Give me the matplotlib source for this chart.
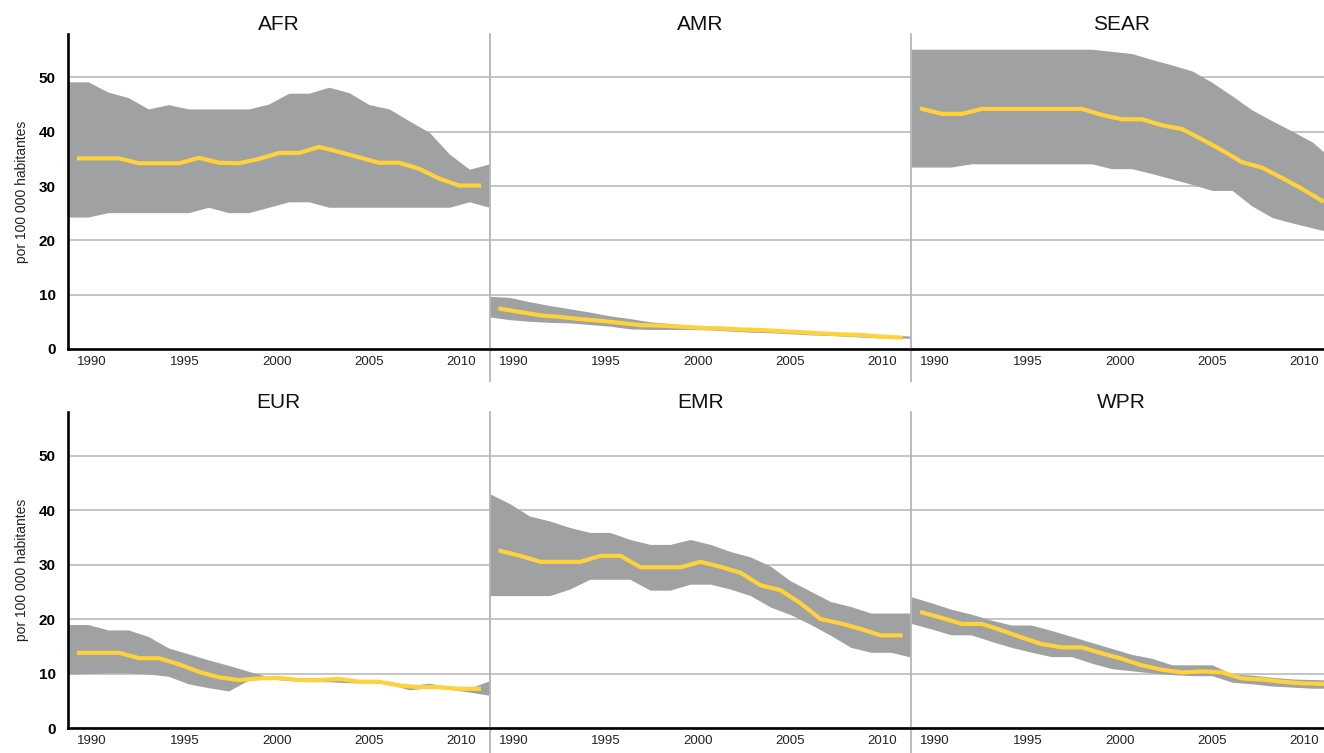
import numpy as np
import matplotlib
matplotlib.use("Agg")
import matplotlib.pyplot as plt

plt.rcParams['font.family'] = ['Liberation Sans Narrow', 'Liberation Sans', 'DejaVu Sans']

# line years and tick labels
years = np.arange(1990, 2011)
tick_years = [1990, 1995, 2000, 2005, 2010]
regions = ["AFR", "AMR", "SEAR", "EUR", "EMR", "WPR"]

# central estimate per region (1990..2010)
afr_mid = [35.1, 35.1, 35.1, 34.2, 34.2, 34.2, 35.2, 34.3, 34.2, 35.0, 36.1,
           36.1, 37.2, 36.3, 35.3, 34.3, 34.3, 33.2, 31.4, 30.1, 30.1]
amr_mid = [7.4, 6.8, 6.2, 5.9, 5.5, 5.2, 4.8, 4.4, 4.3, 4.1, 3.9,
           3.8, 3.6, 3.5, 3.3, 3.1, 2.9, 2.7, 2.6, 2.3, 2.1]
sear_mid = [44.2, 43.3, 43.3, 44.2, 44.2, 44.2, 44.2, 44.2, 44.2, 43.1, 42.3,
            42.3, 41.2, 40.5, 38.6, 36.6, 34.4, 33.4, 31.5, 29.5, 27.3]
eur_mid = [13.8, 13.8, 13.8, 12.8, 12.8, 11.7, 10.3, 9.3, 8.8, 9.1, 9.2,
           8.8, 8.8, 9.0, 8.5, 8.5, 7.8, 7.5, 7.5, 7.2, 7.2]
emr_mid = [32.5, 31.6, 30.5, 30.5, 30.5, 31.6, 31.6, 29.5, 29.5, 29.5, 30.5,
           29.6, 28.5, 26.2, 25.3, 22.9, 20.0, 19.2, 18.2, 17.0, 17.0]
wpr_mid = [21.2, 20.2, 19.1, 19.1, 17.9, 16.6, 15.4, 14.8, 14.8, 13.7, 12.7,
           11.5, 10.7, 10.2, 10.4, 10.2, 9.1, 8.9, 8.5, 8.2, 8.1]

# uncertainty band, 22 samples across each panel
afr_hi = [49.2, 49.2, 47.3, 46.3, 44.2, 45.0, 44.2, 44.2, 44.2, 44.2, 45.1,
          47.1, 47.1, 48.2, 47.2, 45.0, 44.2, 42.0, 39.9, 35.9, 33.1, 34.1]
afr_lo = [24.3, 24.3, 25.1, 25.1, 25.1, 25.1, 25.1, 26.1, 25.1, 25.1, 26.1,
          27.1, 27.1, 26.1, 26.1, 26.1, 26.1, 26.1, 26.1, 26.1, 27.1, 26.1]
amr_hi = [9.7, 9.5, 8.7, 8.0, 7.4, 6.8, 6.1, 5.6, 5.0, 4.7, 4.4,
          4.2, 3.9, 3.7, 3.5, 3.3, 3.1, 2.9, 2.7, 2.6, 2.5, 2.4]
amr_lo = [5.9, 5.4, 5.1, 4.9, 4.8, 4.5, 4.2, 3.7, 3.6, 3.6, 3.6,
          3.5, 3.3, 3.1, 3.0, 2.8, 2.6, 2.5, 2.3, 2.1, 2.0, 2.0]
sear_hi = [55.2, 55.2, 55.2, 55.2, 55.2, 55.2, 55.2, 55.2, 55.2, 55.2, 54.8,
           54.4, 53.3, 52.3, 51.2, 49.1, 46.6, 44.0, 42.0, 40.1, 38.1, 34.9]
sear_lo = [33.5, 33.5, 33.5, 34.1, 34.1, 34.1, 34.1, 34.1, 34.1, 34.1, 33.2,
           33.2, 32.3, 31.3, 30.3, 29.2, 29.2, 26.3, 24.2, 23.2, 22.3, 21.4]
eur_hi = [19.0, 19.0, 18.0, 18.0, 16.8, 14.7, 13.6, 12.5, 11.5, 10.4, 9.4,
          9.2, 9.1, 9.1, 9.0, 8.8, 8.6, 7.8, 8.2, 7.6, 7.3, 8.7]
eur_lo = [9.9, 10.0, 10.1, 10.1, 9.9, 9.5, 8.1, 7.4, 6.8, 8.8, 9.0,
          8.7, 8.5, 8.5, 8.3, 8.3, 8.1, 7.0, 7.4, 7.1, 6.6, 6.0]
emr_hi = [43.0, 41.2, 38.9, 38.0, 36.8, 35.9, 35.9, 34.6, 33.7, 33.7, 34.6,
          33.7, 32.4, 31.4, 29.7, 27.0, 25.1, 23.2, 22.3, 21.1, 21.1, 21.1]
emr_lo = [24.3, 24.3, 24.3, 24.3, 25.5, 27.3, 27.3, 27.3, 25.3, 25.3, 26.4,
          26.4, 25.5, 24.3, 22.2, 20.8, 19.0, 17.0, 14.8, 13.9, 13.9, 13.0]
wpr_hi = [24.1, 23.0, 21.8, 20.9, 19.8, 18.9, 18.9, 17.9, 16.8, 15.7, 14.6,
          13.5, 12.8, 11.6, 11.6, 11.6, 9.9, 9.7, 9.3, 9.0, 8.9, 8.8]
wpr_lo = [19.2, 18.2, 17.1, 17.1, 15.9, 14.8, 13.9, 13.1, 13.1, 11.9, 10.9,
          10.5, 10.1, 9.8, 9.6, 9.6, 8.4, 8.1, 7.7, 7.5, 7.3, 7.3]

mids = [afr_mid, amr_mid, sear_mid, eur_mid, emr_mid, wpr_mid]
his = [afr_hi, amr_hi, sear_hi, eur_hi, emr_hi, wpr_hi]
los = [afr_lo, amr_lo, sear_lo, eur_lo, emr_lo, wpr_lo]

band_color = '#a0a1a3'
line_color = '#ffd23c'
grid_color = '#b5b5b5'
x0, x1 = 1989.45, 2010.525

W, H = 1324, 753
fig = plt.figure(figsize=(W / 100, H / 100), dpi=100)

panel_w = 421.5 / W
lefts = [68 / W, 489.5 / W, 911 / W]
rows = [(1 - 349 / H, 315 / H), (1 - 728 / H, 316 / H)]

for idx, name in enumerate(regions):
    r, c = divmod(idx, 3)
    bottom, height = rows[r]
    ax = fig.add_axes([lefts[c], bottom, panel_w, height])
    ax.set_xlim(x0, x1)
    ax.set_ylim(0, 58)

    band_x = np.linspace(x0, x1, len(his[idx]))
    ax.fill_between(band_x, los[idx], his[idx], color=band_color, lw=0, zorder=2)
    ax.plot(years, mids[idx], color=line_color, lw=3, zorder=3, solid_joinstyle='miter')

    ax.set_yticks([0, 10, 20, 30, 40, 50])
    ax.yaxis.grid(True, color=grid_color, lw=1.1)
    ax.set_axisbelow(True)
    # labels sit slightly off the yearly positions in the original
    tick_pos = [1990.66 + (t - 1990) * 0.922 for t in tick_years]
    ax.set_xticks(tick_pos, [str(t) for t in tick_years])
    ax.tick_params(axis='x', length=0, pad=5, labelsize=9.5, labelcolor='#222222')

    for s in ['top', 'right']:
        ax.spines[s].set_visible(False)
    ax.spines['bottom'].set_color('black')
    ax.spines['bottom'].set_linewidth(1.9)
    ax.spines['bottom'].set_zorder(5)

    if c == 0:
        ax.spines['left'].set_color('black')
        ax.spines['left'].set_linewidth(1.9)
        ax.tick_params(axis='y', length=0, pad=9, labelsize=11)
        for lab in ax.get_yticklabels():
            lab.set_fontweight('bold')
        ax.set_ylabel("por 100 000 habitantes", fontsize=10, labelpad=7,
                      color='#222222')
    else:
        ax.spines['left'].set_visible(False)
        ax.tick_params(axis='y', length=0, labelleft=False)
        ax.axvline(x0, ymin=-0.1, ymax=1, color=grid_color, lw=1.3,
                   clip_on=False, zorder=4)

    ax.set_title(name, fontsize=15, pad=3, color='#111111')

fig.savefig("out.png", dpi=100)
